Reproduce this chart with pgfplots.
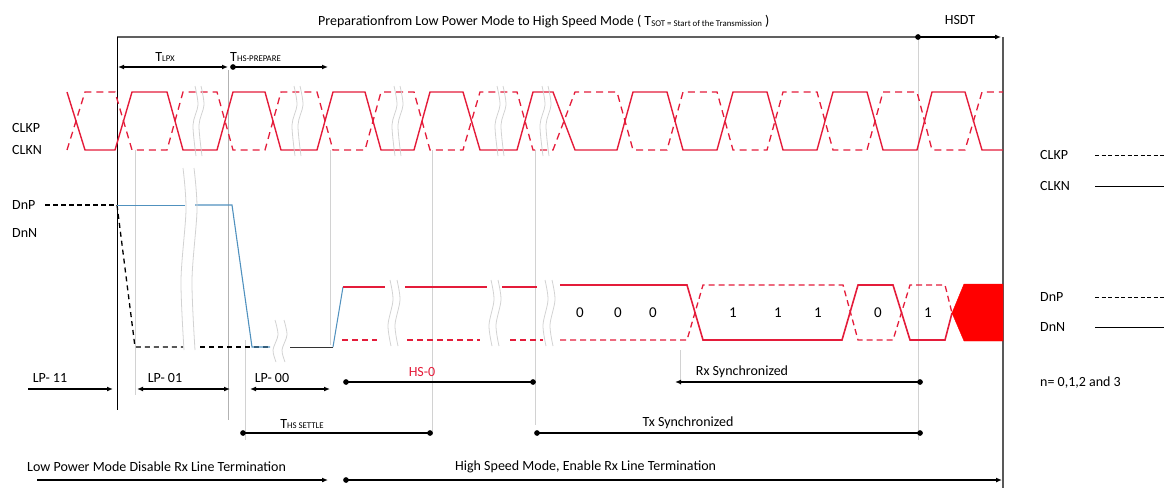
\documentclass[border=0pt]{standalone}
\usepackage{pgfplots}
\pgfplotsset{compat=1.18}
\usepackage{fontspec}
\setmainfont{Carlito}
\usetikzlibrary{arrows.meta}
\definecolor{wred}{RGB}{228,28,58}
\definecolor{wblue}{RGB}{80,145,190}
\definecolor{guide}{RGB}{210,210,210}
\newcommand{\sub}[1]{\raisebox{-0.5pt}{\fontsize{8.8}{9}\selectfont #1}}
\begin{document}
\begin{tikzpicture}[font=\fontsize{14}{16}\selectfont, inner sep=0pt]
\path[use as bounding box] (0,0) rectangle (1164pt,492pt);
\begin{axis}[at={(0,0)},anchor=south west, scale only axis, width=1164pt, height=492pt,
  xmin=0,xmax=1164,ymin=0,ymax=492, y dir=reverse, hide axis, clip=false,
  arrR/.style={black, line width=1.2pt, -{Latex[length=6pt,width=5pt]}, mark=none},
  arrB/.style={black, line width=1.2pt, {Latex[length=6pt,width=5pt]}-{Latex[length=6pt,width=5pt]}, mark=none},
  arrD/.style={black, line width=1.2pt, mark=*, mark size=2.2pt},
  arrDR/.style={black, line width=1.2pt, -{Latex[length=6pt,width=5pt]}, mark=*, mark size=2.2pt, mark indices={1}},
  arrLD/.style={black, line width=1.2pt, {Latex[length=6pt,width=5pt]}-, mark=*, mark size=2.2pt, mark indices={2}},
  sq/.style={guide, line width=0.8pt, smooth, mark=none},
  every axis plot/.append style={mark=none},
]
% ---- guide lines
\addplot[guide, line width=0.8pt] coordinates {(135,150) (135,395)};
\addplot[gray!60, line width=0.9pt] coordinates {(228,70) (228,420)};
\addplot[guide, line width=0.8pt] coordinates {(245,340) (245,440)};
\addplot[guide, line width=0.8pt] coordinates {(330,150) (330,345)};
\addplot[guide, line width=0.8pt] coordinates {(432,150) (432,435)};
\addplot[guide, line width=0.8pt] coordinates {(535,150) (535,425)};
\addplot[guide, line width=0.8pt] coordinates {(680,350) (680,385)};
\addplot[guide, line width=0.8pt] coordinates {(918,40) (918,440)};
% ---- frame lines
\addplot[gray!75!black, line width=2pt] coordinates {(117,37) (918,37)};
\addplot[arrDR] coordinates {(918,37) (1001,37)};
\addplot[black, line width=1pt] coordinates {(117,37) (117,410)};
\addplot[gray!70!black, line width=1.8pt] coordinates {(1003,37) (1003,488)};
% ---- top timing arrows
\addplot[arrB] coordinates {(118,67) (228,67)};
\addplot[arrDR] coordinates {(233,67) (328,67)};
% ---- clock: CLKN solid, CLKP dashed
\addplot[wred, line width=1.4pt] coordinates {(67,92) (85,150) (115,150) (132,92) (167,92) (183,150) (217,150) (233,92) (265,92) (281,150) (317,150) (333,92) (365,92) (381,150) (414,150) (430,92) (463,92) (480,150) (517,150) (533,92) (553,92) (575,150) (617,150) (633,92) (667,92) (683,150) (717,150) (733,92) (767,92) (783,150) (817,150) (833,92) (867,92) (883,150) (917,150) (932,92) (965,92) (982,150) (1003,150)};
\addplot[wred, line width=1.3pt, dash pattern=on 7pt off 5pt] coordinates {(67,150) (85,92) (115,92) (132,150) (167,150) (183,92) (217,92) (233,150) (265,150) (281,92) (317,92) (333,150) (365,150) (381,92) (414,92) (430,150) (463,150) (480,92) (517,92) (533,150) (553,150) (575,92) (617,92) (633,150) (667,150) (683,92) (717,92) (733,150) (767,150) (783,92) (817,92) (833,150) (867,150) (883,92) (917,92) (932,150) (965,150) (982,92) (1003,92)};
% clock breaks
\addplot[sq] coordinates {(195,86) (198,105) (193,125) (196,156)};
\addplot[sq] coordinates {(201,86) (204,105) (199,125) (202,156)};
\addplot[sq] coordinates {(294,86) (297,105) (292,125) (295,156)};
\addplot[sq] coordinates {(300,86) (303,105) (298,125) (301,156)};
\addplot[sq] coordinates {(394,86) (397,105) (392,125) (395,156)};
\addplot[sq] coordinates {(400,86) (403,105) (398,125) (401,156)};
\addplot[sq] coordinates {(497,86) (500,105) (495,125) (498,156)};
\addplot[sq] coordinates {(503,86) (506,105) (501,125) (504,156)};
\addplot[sq] coordinates {(542,86) (545,105) (540,125) (543,156)};
\addplot[sq] coordinates {(548,86) (551,105) (546,125) (549,156)};
% ---- data lane LP part
\addplot[black, line width=1.2pt, dash pattern=on 5pt off 3pt] coordinates {(45,205) (117,205)};
\addplot[black, line width=1.3pt, dash pattern=on 5pt off 4pt] coordinates {(117,205) (135,347) (183,347)};
\addplot[black, line width=1.3pt, dash pattern=on 5pt off 4pt] coordinates {(200,347) (270,347)};
\addplot[black!80, line width=1pt] coordinates {(290,347) (333,347)};
\addplot[wblue, line width=1pt] coordinates {(117,205) (185,205)};
\addplot[wblue, line width=1.1pt] coordinates {(195,205) (232,205) (252,347) (270,347)};
\addplot[wblue, line width=1pt] coordinates {(333,347) (343,287)};
% ---- data lane HS part
\addplot[wred, line width=1.6pt] coordinates {(343,287) (385,287)};
\addplot[wred, line width=1.6pt] coordinates {(405,287) (487,287)};
\addplot[wred, line width=1.6pt] coordinates {(502,287) (537,287)};
\addplot[wred, line width=1.6pt] coordinates {(560,285) (687,285) (703,340) (842,340) (858,285) (893,285) (910,340) (945,340) (952,313)};
\addplot[wred, line width=1.3pt, dash pattern=on 6pt off 4pt] coordinates {(342,340) (377,340)};
\addplot[wred, line width=1.3pt, dash pattern=on 6pt off 4pt] coordinates {(407,340) (480,340)};
\addplot[wred, line width=1.3pt, dash pattern=on 6pt off 4pt] coordinates {(510,340) (543,340)};
\addplot[wred, line width=1.3pt, dash pattern=on 6pt off 4pt] coordinates {(560,340) (687,340) (703,285) (843,285) (858,340) (893,340) (910,285) (945,285) (952,313)};
\addplot[fill=red, draw=red] coordinates {(952,313) (964,284) (1003,284) (1003,341) (964,341) (952,313)};
% data breaks
\addplot[sq] coordinates {(183,168) (186,210) (181,280) (184,350)};
\addplot[sq] coordinates {(194,168) (197,210) (192,280) (195,350)};
\addplot[sq] coordinates {(275,320) (278,335) (273,350) (276,362)};
\addplot[sq] coordinates {(284,320) (287,335) (282,350) (285,362)};
\addplot[sq] coordinates {(390,280) (393,300) (388,325) (391,346)};
\addplot[sq] coordinates {(397,280) (400,300) (395,325) (398,346)};
\addplot[sq] coordinates {(491,280) (494,300) (489,325) (492,346)};
\addplot[sq] coordinates {(498,280) (501,300) (496,325) (499,346)};
\addplot[sq] coordinates {(545,280) (548,300) (543,325) (546,346)};
\addplot[sq] coordinates {(552,280) (555,300) (550,325) (553,346)};
% ---- bottom arrows
\addplot[arrR] coordinates {(28,389) (113,389)};
\addplot[arrB] coordinates {(137,389) (230,389)};
\addplot[arrB] coordinates {(250,389) (330,389)};
\addplot[arrD] coordinates {(346,382) (533,382)};
\addplot[arrLD] coordinates {(675,382) (920,382)};
\addplot[arrD] coordinates {(243,433) (430,433)};
\addplot[arrD] coordinates {(537,433) (920,433)};
\addplot[arrR] coordinates {(37,480) (328,480)};
\addplot[arrDR] coordinates {(346,480) (1002,480)};
% ---- legend lines
\addplot[black, line width=1pt, dash pattern=on 4pt off 2.5pt] coordinates {(1095,155) (1164,155)};
\addplot[black, line width=1pt] coordinates {(1095,186) (1164,186)};
\addplot[black, line width=1pt, dash pattern=on 4pt off 2.5pt] coordinates {(1095,297) (1164,297)};
\addplot[black, line width=1pt] coordinates {(1095,327) (1164,327)};
% ---- texts
\node[anchor=west] at (axis cs:318,22) {Preparationfrom Low Power Mode to High Speed Mode ( T\sub{SOT = Start of the Transmission} )};
\node at (axis cs:960,20) {HSDT};
\node at (axis cs:165,57) {T\sub{LPX}};
\node[anchor=west] at (axis cs:230,57) {T\sub{HS-PREPARE}};
\node[anchor=west] at (axis cs:12,128) {CLKP};
\node[anchor=west] at (axis cs:12,150) {CLKN};
\node[anchor=west] at (axis cs:12,205) {DnP};
\node[anchor=west] at (axis cs:12,233) {DnN};
\node[font=\fontsize{15}{17}\selectfont] at (axis cs:580,313) {0};
\node[font=\fontsize{15}{17}\selectfont] at (axis cs:618,313) {0};
\node[font=\fontsize{15}{17}\selectfont] at (axis cs:653,313) {0};
\node[font=\fontsize{15}{17}\selectfont] at (axis cs:733,313) {1};
\node[font=\fontsize{15}{17}\selectfont] at (axis cs:778,313) {1};
\node[font=\fontsize{15}{17}\selectfont] at (axis cs:818,313) {1};
\node[font=\fontsize{15}{17}\selectfont] at (axis cs:878,313) {0};
\node[font=\fontsize{15}{17}\selectfont] at (axis cs:928,313) {1};
\node at (axis cs:50,378) {LP- 11};
\node at (axis cs:165,378) {LP- 01};
\node at (axis cs:272,378) {LP- 00};
\node[text=wred] at (axis cs:422,372) {HS-0};
\node at (axis cs:742,372) {Rx Synchronized};
\node at (axis cs:302,424) {T\sub{HS SETTLE}};
\node at (axis cs:688,423) {Tx Synchronized};
\node[anchor=west] at (axis cs:27,467) {Low Power Mode Disable Rx Line Termination};
\node[anchor=west] at (axis cs:455,467) {High Speed Mode, Enable Rx Line Termination};
\node[anchor=west] at (axis cs:1040,155) {CLKP};
\node[anchor=west] at (axis cs:1040,186) {CLKN};
\node[anchor=west] at (axis cs:1040,297) {DnP};
\node[anchor=west] at (axis cs:1040,327) {DnN};
\node[anchor=west] at (axis cs:1040,383) {n= 0,1,2 and 3};
\end{axis}
\end{tikzpicture}
\end{document}
